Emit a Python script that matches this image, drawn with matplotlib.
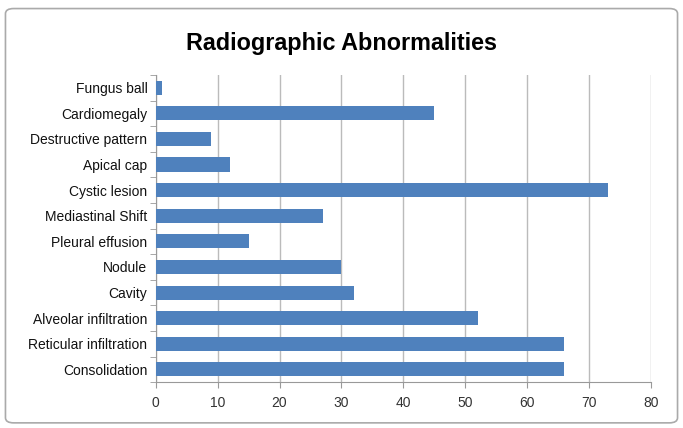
import numpy as np
import matplotlib
matplotlib.use('Agg')
import matplotlib.pyplot as plt
from matplotlib.patches import FancyBboxPatch

plt.rcParams['font.family'] = ['Liberation Sans', 'DejaVu Sans']

categories = ['Consolidation', 'Reticular infiltration', 'Alveolar infiltration', 'Cavity',
              'Nodule', 'Pleural effusion', 'Mediastinal Shift', 'Cystic lesion',
              'Apical cap', 'Destructive pattern', 'Cardiomegaly', 'Fungus ball']
values = [66, 66, 52, 32, 30, 15, 27, 73, 12, 9, 45, 1]
xticks = [0, 10, 20, 30, 40, 50, 60, 70, 80]

fig = plt.figure(figsize=(6.83, 4.28), dpi=100)
ax = fig.add_axes([0.228, 0.107, 0.725, 0.718])

y = np.arange(len(categories))
ax.barh(y, values, height=0.55, color='#4F81BD', zorder=3)

ax.set_xlim(0, 80)
ax.set_ylim(-0.5, len(categories) - 0.5)
ax.set_xticks(xticks)
ax.set_yticks(y)
ax.set_yticklabels(categories, fontsize=10)
ax.tick_params(axis='x', labelsize=10, colors='#333333', length=4, color='#999999', pad=6)
ax.tick_params(axis='y', length=0, pad=6)
ax.set_yticks(np.arange(len(categories) + 1) - 0.5, minor=True)
ax.tick_params(axis='y', which='minor', length=4, color='#999999')
for lab in ax.get_yticklabels():
    lab.set_color('#111111')

ax.grid(axis='x', color='#BBBBBB', linewidth=1, zorder=0)
for s in ['top', 'right']:
    ax.spines[s].set_visible(False)
for s in ['left', 'bottom']:
    ax.spines[s].set_color('#999999')

fig.text(0.5, 0.898, 'Radiographic Abnormalities', ha='center', va='center',
         fontsize=16.8, fontweight='bold')

border = FancyBboxPatch((0.008, 0.012), 0.984, 0.968, boxstyle='round,pad=0,rounding_size=0.012',
                        transform=fig.transFigure, fill=False, edgecolor='#AAAAAA', linewidth=1.2)
fig.patches.append(border)

fig.savefig('out.png', dpi=100)
